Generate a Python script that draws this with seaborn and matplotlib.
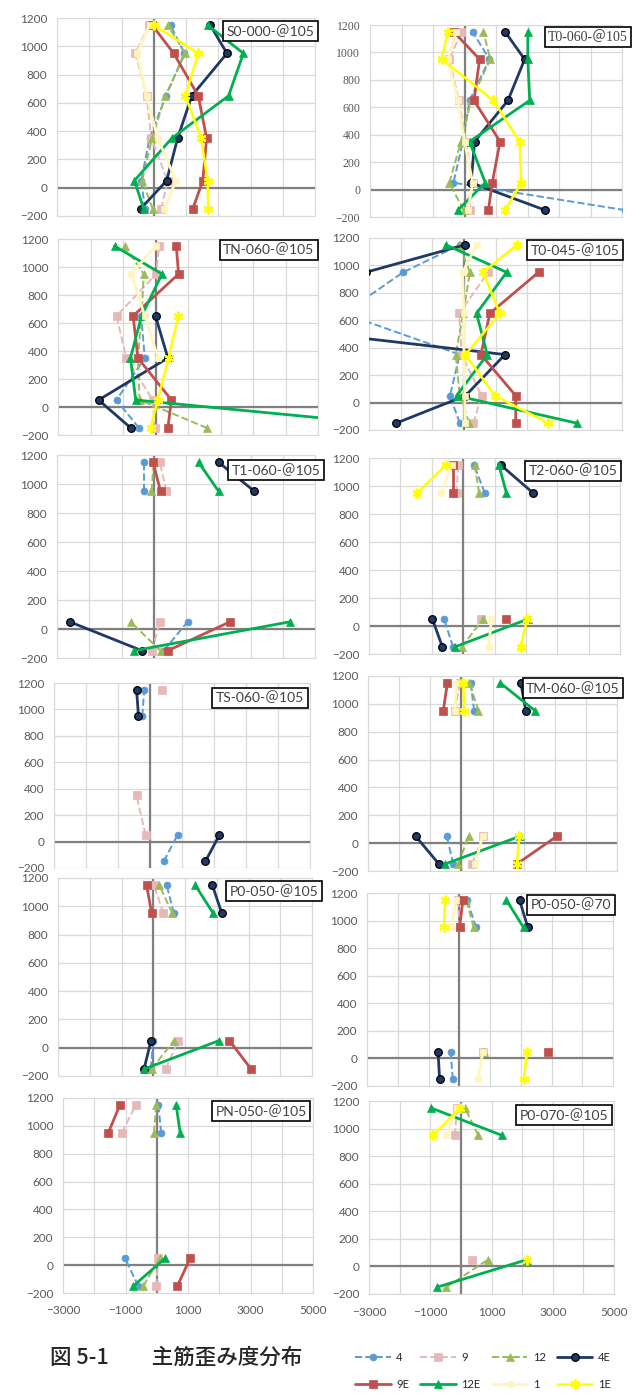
import numpy as np
import pandas as pd
import matplotlib
matplotlib.use("Agg")
import matplotlib.pyplot as plt
from matplotlib.lines import Line2D
import seaborn as sns

nan = np.nan

# gauge heights (mm) and the 8 loading steps
heights = [1150, 950, 650, 350, 50, -150]
series_names = ["4", "9", "12", "4E", "9E", "12E", "1", "1E"]

# strain values (x) per panel, in order of heights
s0_000 = {"4": [520, 950, 380, -130, -390, -270], "9": [-150, -570, -220, -80, 430, 230],
          "12": [430, 980, 360, -50, -360, -30], "4E": [1750, 2270, 1180, 740, 400, -410],
          "9E": [-50, 620, 1380, 1640, 1520, 1210], "12E": [1670, 2780, 2320, 560, -600, -310],
          "1": [-130, -520, -220, 120, 690, 330], "1E": [0, 1380, 980, 1470, 1670, 1690]}
t0_060 = {"4": [260, 790, 160, -50, -350, 5100], "9": [-100, -480, -180, 50, 260, 160],
          "12": [600, 820, 210, -110, -480, -30], "4E": [1290, 1910, 1380, 320, 210, 2560],
          "9E": [-340, 480, 300, 1130, 880, 760], "12E": [2010, 2010, 2070, 160, 660, -210],
          "1": [-260, -530, -210, 0, 260, 110], "1E": [-530, -720, 920, 1750, 1800, 1290]}
tn_060 = {"4": [nan, nan, -440, -330, -1200, -510], "9": [110, 20, -1200, -900, -80, -30],
          "12": [-950, -360, -430, -540, -490, 1590], "4E": [nan, nan, 0, 380, -1750, -760],
          "9E": [640, 710, -690, -540, 490, 380], "12E": [-1260, 200, -430, -770, -610, 8300],
          "1": [0, -740, -330, 80, nan, nan], "1E": [nan, nan, 700, 400, 70, -150]}
t0_045 = {"4": [-130, -1920, -3800, -130, -440, -130], "9": [nan, 770, -150, -70, 560, 300],
          "12": [-150, 190, -20, -260, -130, 170], "4E": [30, -3100, -10000, 1300, 50, -2140],
          "9E": [nan, 2360, 820, 540, 1640, 1640], "12E": [-570, 1350, 400, 740, -230, 3570],
          "1": [400, -40, 0, 0, 30, 30], "1E": [1670, 610, 1140, 50, 980, 2670]}
t1_060 = {"4": [-290, -290, nan, nan, 1050, 310], "9": [190, 390, nan, nan, 190, -50],
          "12": [0, -70, nan, nan, -720, 210], "4E": [2010, 3120, nan, nan, -2610, -360],
          "9E": [-20, 210, nan, nan, 2370, 430], "12E": [1390, 2010, nan, nan, 4230, -620]}
t2_060 = {"4": [350, 690, nan, nan, -610, -320], "9": [-160, -210, nan, nan, 560, nan],
          "12": [370, 510, nan, nan, 640, -50], "4E": [1200, 2230, nan, nan, -980, -660],
          "9E": [-320, -320, nan, nan, 1360, nan], "12E": [1140, 1380, nan, nan, 2070, -270],
          "1": [-370, -690, nan, nan, 900, 820], "1E": [-550, -1460, nan, nan, 2040, 1830]}
ts_060 = {"4": [-180, -240, nan, nan, 860, 430], "9": [390, nan, nan, -420, -140, nan],
          "4E": [-420, -360, nan, nan, 2170, 1730]}
tm_060 = {"4": [300, 410, nan, nan, -470, -260], "9": [-60, -200, nan, nan, 710, 330],
          "12": [260, 550, nan, nan, 230, -100], "4E": [1910, 2070, nan, nan, -1470, -720],
          "9E": [-450, -580, nan, nan, 3070, 1780], "12E": [1250, 2370, nan, nan, 1890, -530],
          "1": [-170, -200, nan, nan, 680, 440], "1E": [60, 90, nan, nan, 1860, 1780]}
p0_050_105 = {"4": [420, 650, nan, nan, 0, -80], "9": [20, 320, nan, nan, 790, 390],
              "12": [190, 600, nan, nan, 650, -50], "4E": [1860, 2160, nan, nan, -70, -290],
              "9E": [-210, -50, nan, nan, 2400, 3080], "12E": [1320, 1890, nan, nan, 2070, -280]}
p0_050_70 = {"4": [250, 550, nan, nan, -280, -210], "9": [-40, 10, nan, nan, 770, nan],
             "12": [230, 470, nan, nan, 820, nan], "4E": [1960, 2230, nan, nan, -690, -640],
             "9E": [120, 10, nan, nan, 2880, nan], "12E": [1530, 2090, nan, nan, nan, nan],
             "1": [-100, -260, nan, nan, 770, 610], "1E": [-460, -500, nan, nan, 2200, 2100]}
pn_050 = {"4": [50, 140, nan, nan, -1020, -590], "9": [-670, -1120, nan, nan, 50, -20],
          "12": [-20, -90, nan, nan, 90, -430], "9E": [-1180, -1550, nan, nan, 1070, 660],
          "12E": [620, 750, nan, nan, 270, -750]}
p0_070 = {"9": [-120, -200, nan, nan, 350, nan], "12": [130, 570, nan, nan, 890, -470],
          "12E": [-980, 1350, nan, nan, 2170, -770], "1": [-120, -470, nan, nan, nan, nan],
          "1E": [-30, -900, nan, nan, 2150, nan]}

styles = {
    "4":   dict(color="#5B9BD5", ls="--", lw=1.4, marker="o", ms=5, mec="#5B9BD5", mew=0.5),
    "9":   dict(color="#E6B9B8", ls="--", lw=1.4, marker="s", ms=5.5, mec="#E6B9B8", mew=0.5),
    "12":  dict(color="#9BBB59", ls="--", lw=1.4, marker="^", ms=6, mec="#9BBB59", mew=0.5),
    "4E":  dict(color="#1F3864", ls="-", lw=2.0, marker="o", ms=5.5, mec="black", mew=0.9),
    "9E":  dict(color="#C0504D", ls="-", lw=2.0, marker="s", ms=5.5, mec="#C0504D", mew=0.5),
    "12E": dict(color="#00B050", ls="-", lw=2.0, marker="^", ms=6, mec="#00B050", mew=0.5),
    "1":   dict(color="#FFF5BF", ls="-", lw=2.0, marker="s", ms=5, mec="#FFF5BF", mew=0.5),
    "1E":  dict(color="#FFFF00", ls="-", lw=1.8, marker=(6, 2, 0), ms=7, mec="#FFFF00", mew=1.6),
}

sns.set_style("white")
plt.rcParams["font.family"] = ["Lato", "Noto Sans CJK JP", "DejaVu Sans"]

W, H = 641, 1396
fig = plt.figure(figsize=(W / 100, H / 100), dpi=100)

# name, data, left, right, top, bottom (px), y bottom limit, label box position, serif, x labels
panels = [
    ("S0-000-＠105", s0_000, 57, 315, 18, 216, -200, (0.826, 0.934), False, False),
    ("T0-060-＠105", t0_060, 370, 622, 25, 217, -200, (0.865, 0.937), True, False),
    ("TN-060-＠105", tn_060, 58, 318, 239, 435, -200, (0.81, 0.944), False, False),
    ("T0-045-＠105", t0_045, 369, 622, 238, 430, -200, (0.814, 0.937), False, False),
    ("T1-060-＠105", t1_060, 57, 315, 455, 658, -200, (0.85, 0.926), False, False),
    ("T2-060-＠105", t2_060, 369, 620, 458, 654, -200, (0.813, 0.934), False, False),
    ("TS-060-＠105", ts_060, 54, 310, 683, 868, -114, (0.805, 0.92), False, False),
    ("TM-060-＠105", tm_060, 368, 617, 676, 871, -200, (0.823, 0.938), False, False),
    ("P0-050-＠105", p0_050_105, 58, 312, 878, 1076, -200, (0.85, 0.934), False, False),
    ("P0-050-＠70", p0_050_70, 367, 613, 893, 1086, -200, (0.829, 0.938), False, False),
    ("PN-050-＠105", pn_050, 63, 313, 1098, 1293, -200, (0.792, 0.933), False, True),
    ("P0-070-＠105", p0_070, 369, 614, 1101, 1294, -200, (0.796, 0.927), False, True),
]

for name, data, x0, x1, y0, y1, ybot, box, serif, xlab in panels:
    ax = fig.add_axes([x0 / W, 1 - y1 / H, (x1 - x0) / W, (y1 - y0) / H])
    ax.set_facecolor("white")
    ax.axhline(0, color="#808080", lw=1.6, zorder=1.5)
    ax.axvline(0, color="#808080", lw=1.6, zorder=1.5)
    for s in series_names:
        if s not in data:
            continue
        df = pd.DataFrame({"strain": data[s], "height": heights})
        df["seg"] = df["strain"].isna().cumsum()  # break the line at missing gauges
        df = df.dropna()
        if df.empty:
            continue
        sns.lineplot(data=df, x="strain", y="height", units="seg", estimator=None,
                     orient="y", ax=ax, legend=False, zorder=3, **styles[s])
    ax.set_xlim(-3000, 5000)
    ax.set_ylim(ybot, 1200)
    ax.set_xticks([-3000, -1000, 1000, 3000, 5000])
    ax.set_xticks([-2000, 0, 2000, 4000], minor=True)
    ax.set_yticks(range(-200, 1201, 200))
    ax.grid(True, which="both", color="#D9D9D9", lw=0.9, zorder=0)
    ax.set_axisbelow(True)
    ax.set_xlabel("")
    ax.set_ylabel("")
    for sp in ax.spines.values():
        sp.set_color("#D9D9D9")
    if ybot > -200:
        ax.spines["bottom"].set_visible(False)
    tick_font = ["Liberation Serif"] if serif else ["Lato"]
    ax.tick_params(which="both", length=0, labelsize=8.5, labelcolor="#595959", pad=7)
    for lbl in ax.get_yticklabels():
        lbl.set_family(tick_font)
    if xlab:
        ax.tick_params(axis="x", pad=9)
    else:
        ax.set_xticklabels([])
    box_font = ["Liberation Serif", "Noto Sans CJK JP"] if serif else ["Lato", "Noto Sans CJK JP"]
    ax.text(box[0], box[1], name, transform=ax.transAxes, ha="center", va="center",
            fontsize=10, family=box_font, color="#404040", zorder=10, clip_on=False,
            bbox=dict(boxstyle="square,pad=0.25", facecolor="white", edgecolor="black", lw=1.2))

# caption
fig.text(50 / W, 1 - 1358 / H, "図 5-1　　主筋歪み度分布", fontsize=15.5,
         family=["Noto Sans CJK JP"], weight="medium", va="center", ha="left")

# legend (column-major fill to get the two rows of the original)
order = ["4", "9E", "9", "12E", "12", "1", "4E", "1E"]
handles = [Line2D([], [], **styles[s]) for s in order]
fig.legend(handles, order, ncol=4, loc="center", bbox_to_anchor=(483 / W, 1 - 1371 / H),
           frameon=False, fontsize=8, handlelength=3.2, columnspacing=1.0,
           labelspacing=1.5, handletextpad=0.5)

fig.savefig("out.png", dpi=100)
